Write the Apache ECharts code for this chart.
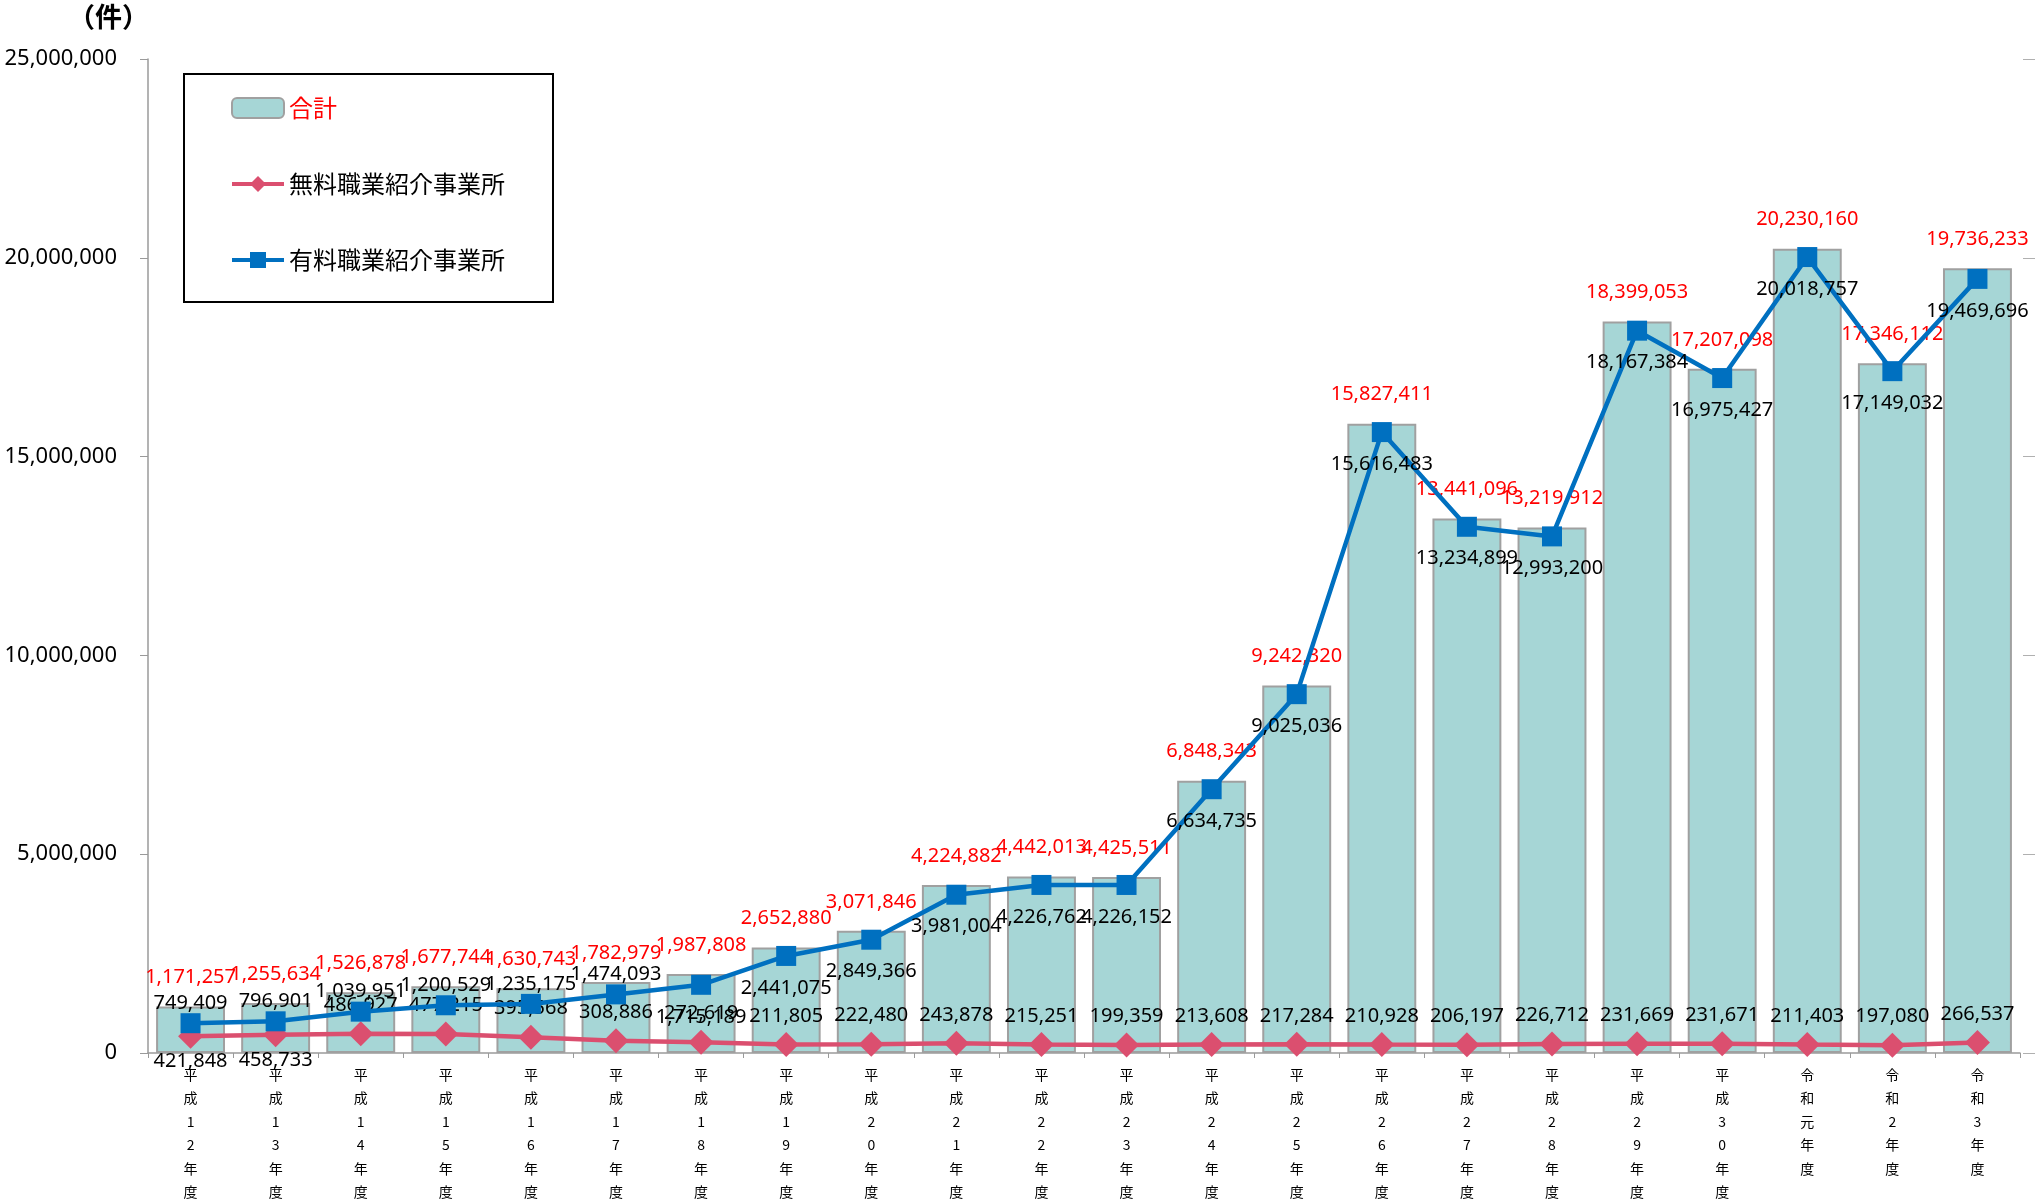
<!DOCTYPE html>
<html>
<head>
<meta charset="utf-8">
<script src="https://cdn.jsdelivr.net/npm/echarts@6/dist/echarts.min.js"></script>
<style>
html,body{margin:0;padding:0;background:#fff;}
#chart{width:2042px;height:1199px;}
</style>
</head>
<body>
<div id="chart"></div>
<script>
const categories = ['平成12年度','平成13年度','平成14年度','平成15年度','平成16年度','平成17年度','平成18年度','平成19年度','平成20年度','平成21年度','平成22年度','平成23年度','平成24年度','平成25年度','平成26年度','平成27年度','平成28年度','平成29年度','平成30年度','令和元年度','令和2年度','令和3年度'];
const totalValues = [1171257,1255634,1526878,1677744,1630743,1782979,1987808,2652880,3071846,4224882,4442013,4425511,6848343,9242320,15827411,13441096,13219912,18399053,17207098,20230160,17346112,19736233];
const freeValues = [421848,458733,486927,477215,395568,308886,272619,211805,222480,243878,215251,199359,213608,217284,210928,206197,226712,231669,231671,211403,197080,266537];
const paidValues = [749409,796901,1039951,1200529,1235175,1474093,1715189,2441075,2849366,3981004,4226762,4226152,6634735,9025036,15616483,13234899,12993200,18167384,16975427,20018757,17149032,19469696];
const yTicks = [0,5000000,10000000,15000000,20000000,25000000];

const FONT = "'Noto Sans', 'Noto Sans CJK JP', sans-serif";
const fmt = v => Number(v).toLocaleString('en-US');

const chart = echarts.init(document.getElementById('chart'), null, {renderer:'canvas'});

const paidData = paidValues.map((v,i) => ({
  value: v,
  label: i < 6 ? {position:'top', distance: 0} : {position:'bottom', distance: 12}
}));
const freeData = freeValues.map((v,i) => ({
  value: v,
  label: i < 2 ? {position:'bottom', distance: 3} : {position:'top', distance: 6}
}));

const option = {
  animation: false,
  backgroundColor: '#ffffff',
  textStyle: {fontFamily: FONT},
  graphic: [{
    type: 'text', left: 68, top: 3,
    style: {text: '（件）', font: "bold 27px 'Noto Sans CJK JP', sans-serif", fill: '#000'}
  }],
  legend: {
    orient: 'vertical',
    left: 184, top: 74,
    padding: [22, 48, 30, 46],
    itemGap: 52,
    itemWidth: 52, itemHeight: 20,
    borderColor: '#000', borderWidth: 2,
    textStyle: {fontSize: 24, lineHeight: 24, color: '#000', fontFamily: "'Noto Sans CJK JP', sans-serif"},
    data: [
      {name: '合計', textStyle: {color: '#FF0000'}},
      {name: '無料職業紹介事業所', lineStyle: {width: 4}},
      {name: '有料職業紹介事業所', lineStyle: {width: 4}}
    ]
  },
  grid: {left: 148, right: 22, top: 59, bottom: 146, containLabel: false, outerBoundsMode: 'none'},
  xAxis: {
    type: 'category',
    data: categories,
    axisLine: {lineStyle: {color: '#9a9a9a', width: 1.5}},
    axisTick: {show: true, interval: 0, length: 5, lineStyle: {color: '#9a9a9a'}},
    axisLabel: {
      interval: 0, margin: 10,
      fontSize: 14, lineHeight: 23.4, color: '#000',
      fontFamily: "'Noto Sans CJK JP', sans-serif",
      formatter: v => v.split('').join('\n')
    }
  },
  yAxis: [{
    type: 'value', min: yTicks[0], max: yTicks[yTicks.length-1], interval: 5000000,
    axisLine: {show: true, lineStyle: {color: '#9a9a9a', width: 1.5}},
    axisTick: {show: true, length: 8, lineStyle: {color: '#9a9a9a'}},
    splitLine: {show: false},
    axisLabel: {fontSize: 22, color: '#000', margin: 31, fontFamily: FONT, formatter: v => fmt(v)}
  }, {
    type: 'value', min: yTicks[0], max: yTicks[yTicks.length-1], interval: 5000000,
    position: 'right', offset: 3,
    axisLine: {show: false},
    axisTick: {show: true, length: 12, lineStyle: {color: '#b0b0b0'}},
    splitLine: {show: false},
    axisLabel: {show: false}
  }],
  series: [{
    name: '合計', type: 'bar', data: totalValues,
    barCategoryGap: '19%',
    itemStyle: {color: '#A6D6D6', borderColor: '#A0A0A0', borderWidth: 2},
    label: {show: true, position: 'top', distance: 19, color: '#FF0000', fontSize: 20, fontFamily: FONT, formatter: p => fmt(p.value)},
    z: 1
  }, {
    name: '無料職業紹介事業所', type: 'line', data: freeData,
    symbol: 'diamond', symbolSize: 25,
    lineStyle: {color: '#DB4F6F', width: 4.5},
    itemStyle: {color: '#DB4F6F'},
    label: {show: true, color: '#000', fontSize: 20, fontFamily: FONT, formatter: p => fmt(p.value)},
    z: 3
  }, {
    name: '有料職業紹介事業所', type: 'line', data: paidData,
    symbol: 'rect', symbolSize: 20,
    lineStyle: {color: '#0070C0', width: 4.5},
    itemStyle: {color: '#0070C0'},
    label: {show: true, color: '#000', fontSize: 20, fontFamily: FONT, formatter: p => fmt(p.value)},
    z: 4
  }]
};
chart.setOption(option);
</script>
</body>
</html>
